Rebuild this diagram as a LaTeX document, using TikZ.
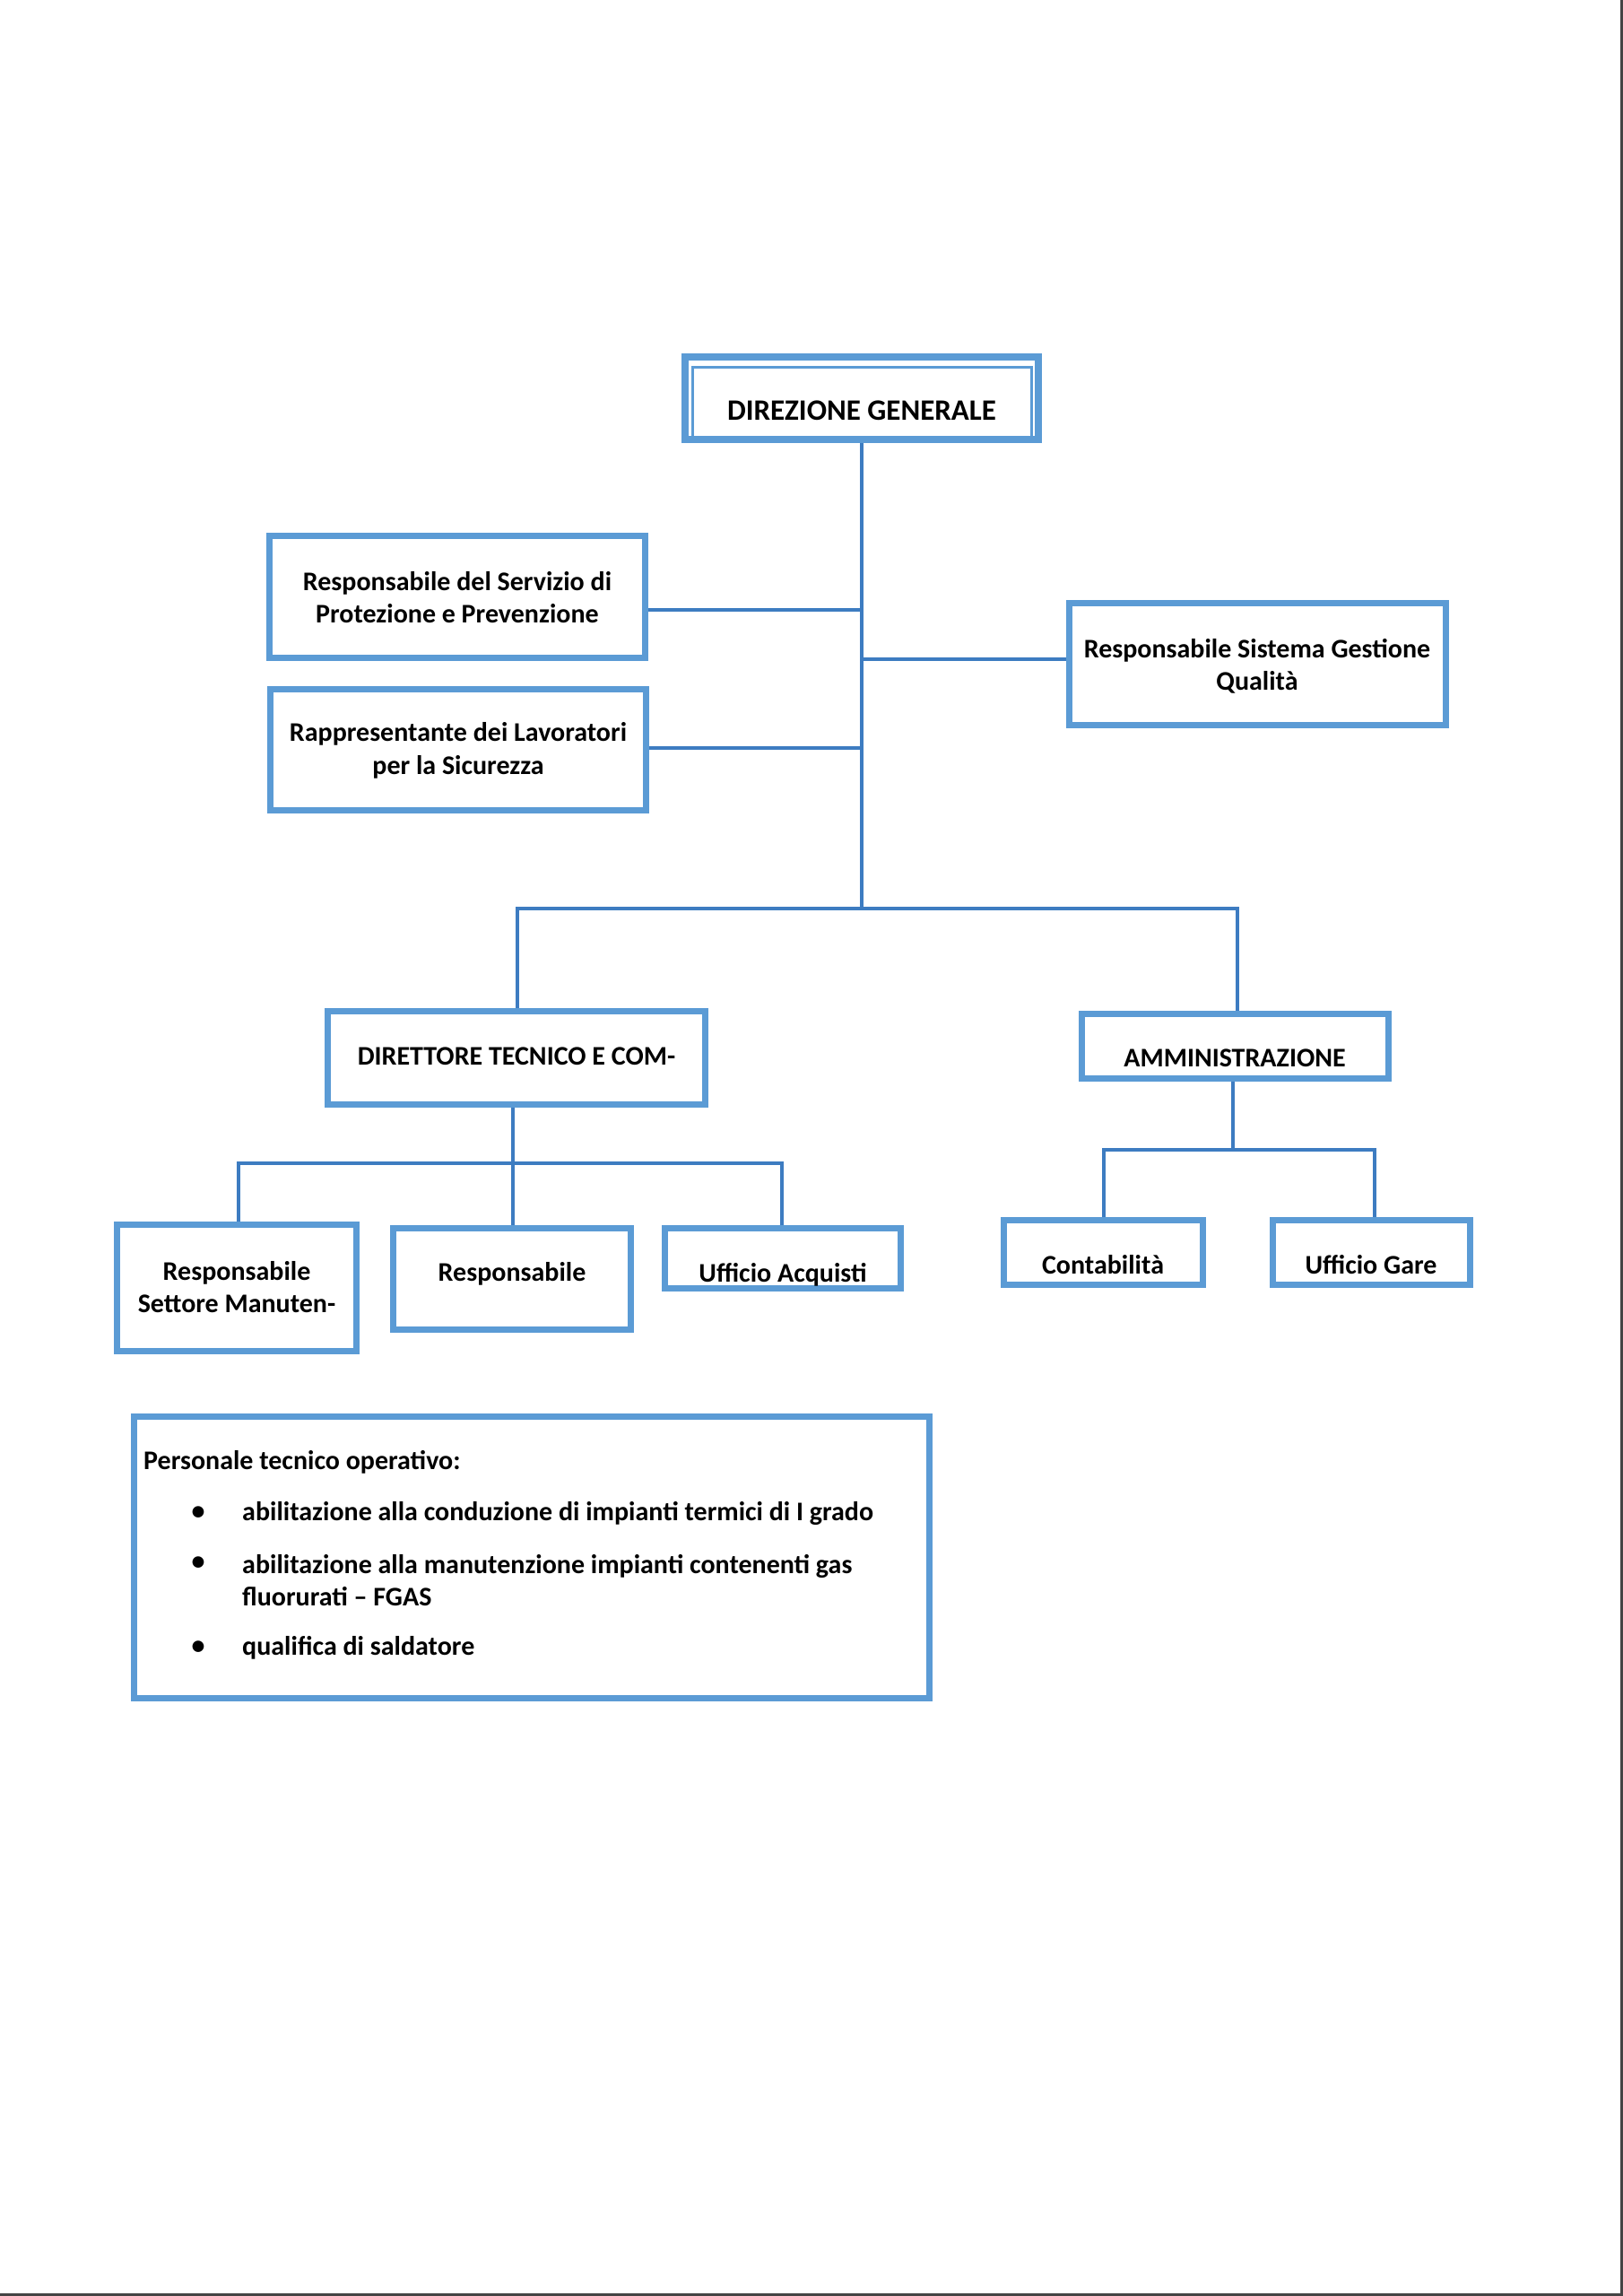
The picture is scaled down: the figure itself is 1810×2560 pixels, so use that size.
\documentclass[tikz,border=0pt]{standalone}
\usepackage{fontspec}
\setmainfont{Carlito}
\definecolor{boxblue}{HTML}{5B9BD5}
\definecolor{linkblue}{HTML}{3D7CC1}
\definecolor{edgegray}{HTML}{444444}
\newcommand\obox[5]{\node[box, minimum width={#4-#2-7}, minimum height={#5-#3-7}] (#1) at ({(#2+#4)/2},{(#3+#5)/2}) {};}
\begin{document}
\begin{tikzpicture}[x=1pt,y=-1pt,
  box/.style={draw=boxblue, line width=7pt, fill=white, inner sep=0pt},
  lbl/.style={font=\fontsize{30}{36.5}\selectfont\bfseries, align=center, inner sep=0pt, text=black},
  biglbl/.style={lbl, font=\fontsize{33}{40}\selectfont\bfseries},
  link/.style={draw=linkblue, line width=4.8pt},
  pageedge/.style={draw=edgegray, line width=3pt}]
\useasboundingbox[fill=white] (0,0) rectangle (1810,2560);
\draw[pageedge] (1808.5,0) -- (1808.5,2558.5) -- (0,2558.5);

% boxes
\node[box, line width=8pt, minimum width=394, minimum height=92] (dg) at (961,444) {};
\draw[boxblue, line width=3pt] (772,409) rectangle (1150,487);
\node[biglbl] (dg-t) at (961,458) {DIREZIONE GENERALE};

\obox{rspp}{297}{594}{723}{737}
\node[lbl] (rspp-t) at (510,666) {Responsabile del Servizio di\\Protezione e Prevenzione};
\obox{rls}{298}{765}{724}{907}
\node[lbl] (rls-t) at (511,837) {Rappresentante dei Lavoratori\\per la Sicurezza};
\obox{rsgq}{1189}{669}{1616}{812}
\node[lbl] (rsgq-t) at (1402,743) {Responsabile Sistema Gestione\\Qualità};

\obox{dtc}{362}{1124}{790}{1235}
\node[lbl] (dtc-t) at (576,1178) {DIRETTORE TECNICO E COM-};
\obox{amm}{1203}{1127}{1552}{1206}
\node[lbl] (amm-t) at (1377,1180) {AMMINISTRAZIONE};

\obox{rsm}{127}{1362}{401}{1510}
\node[lbl] (rsm-t) at (264,1435) {Responsabile\\Settore Manuten-};
\obox{resp}{435}{1366}{707}{1486}
\node[lbl] (resp-t) at (571,1420) {Responsabile};
\obox{ua}{738}{1366}{1008}{1440}
\node[lbl] (ua-t) at (873,1421) {Ufficio Acquisti};
\obox{cont}{1116}{1357}{1345}{1436}
\node[lbl] (cont-t) at (1230,1410) {Contabilità};
\obox{ug}{1416}{1357}{1643}{1436}
\node[lbl] (ug-t) at (1529,1410) {Ufficio Gare};

\obox{pers}{146}{1576}{1040}{1897}
\node[lbl, anchor=west] (pers-h) at (160,1630) {Personale tecnico operativo:};
\node[lbl] (bul1) at (221,1687) {•};
\node[lbl] (bul2) at (221,1743) {•};
\node[lbl] (bul3) at (221,1837) {•};
\node[lbl, anchor=west] (it1) at (270,1687) {abilitazione alla conduzione di impianti termici di I grado};
\node[lbl, anchor=west, align=left] (it2) at (270,1762) {abilitazione alla manutenzione impianti contenenti gas\\fluorurati – FGAS};
\node[lbl, anchor=west] (it3) at (270,1837) {qualifica di saldatore};

% connectors
\coordinate (j1) at (961,680);
\coordinate (j2) at (961,735);
\coordinate (j3) at (961,834);
\coordinate (b1) at (961,1013);
\coordinate (bl) at (577,1013);
\coordinate (br) at (1380,1013);
\draw[link] (dg.south -| b1) -- (b1);
\draw[link] (j1) -- (j1 -| rspp.east);
\draw[link] (j3) -- (j3 -| rls.east);
\draw[link] (j2) -- (j2 -| rsgq.west);
\draw[link] (dtc.north -| bl) -- (bl) -- (br) -- (amm.north -| br);

\coordinate (c1) at (572,1297);
\coordinate (cl) at (266,1297);
\coordinate (cr) at (872,1297);
\draw[link] (dtc.south -| c1) -- (c1);
\draw[link] (rsm.north -| cl) -- (cl) -- (cr) -- (ua.north -| cr);
\draw[link] (c1) -- (resp.north -| c1);

\coordinate (a1) at (1375,1282);
\coordinate (al) at (1231,1282);
\coordinate (ar) at (1533,1282);
\draw[link] (amm.south -| a1) -- (a1);
\draw[link] (cont.north -| al) -- (al) -- (ar) -- (ug.north -| ar);
\end{tikzpicture}
\end{document}
